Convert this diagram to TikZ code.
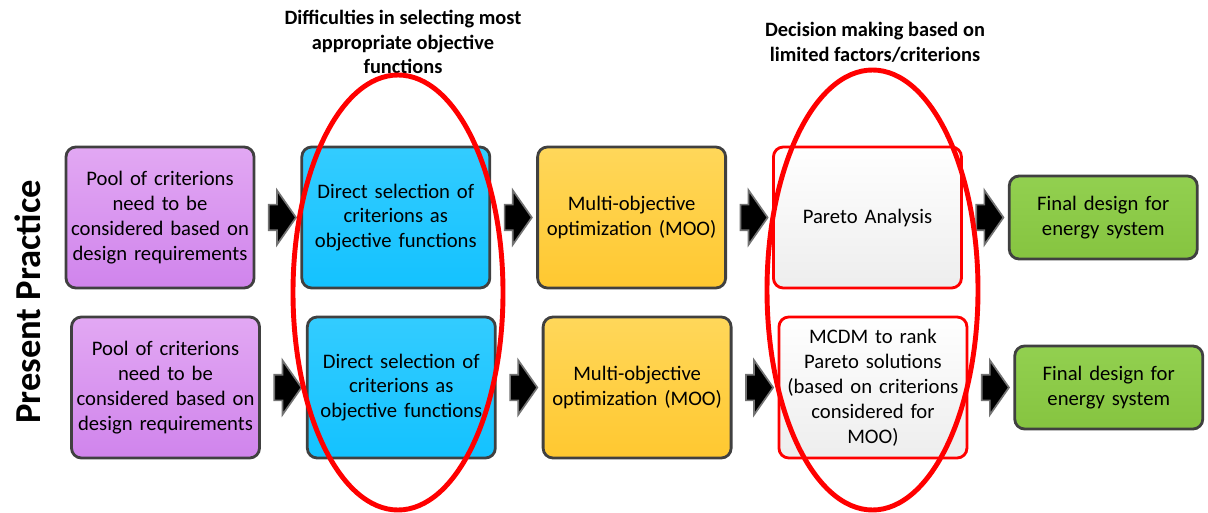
\documentclass[tikz,border=0pt]{standalone}
\usepackage{fontspec}
\setmainfont{Carlito}
\usetikzlibrary{shapes.arrows, positioning}

\definecolor{boxEdge}{HTML}{404040}
\definecolor{ringRed}{HTML}{FF0000}

\begin{document}
\begin{tikzpicture}[
        node distance=1.125cm,
        stepBox/.style={
            rectangle, rounded corners=7pt, draw=boxEdge, line width=2pt,
            text width=4.5cm, inner xsep=2pt, align=center, minimum width=4.7cm, minimum height=3.525cm,
            font=\fontsize{14.7}{17.7}\selectfont
        },
        poolBox/.style={stepBox, top color={rgb,255:red,226;green,168;blue,243}, bottom color={rgb,255:red,208;green,132;blue,236}},
        selectBox/.style={stepBox, top color={rgb,255:red,51;green,204;blue,255}, bottom color={rgb,255:red,20;green,194;blue,255}},
        mooBox/.style={stepBox, top color={rgb,255:red,255;green,215;blue,90}, bottom color={rgb,255:red,255;green,200;blue,48}},
        paretoBox/.style={stepBox, draw=ringRed, top color=white, bottom color=black!7},
        finalBox/.style={stepBox, minimum height=2.075cm, top color={rgb,255:red,146;green,208;blue,80}, bottom color={rgb,255:red,134;green,196;blue,64}},
        flowArrow/.style={
            single arrow, fill=black, draw=black!55, line width=1.2pt,
            inner xsep=0pt, inner ysep=0.3cm, minimum height=0.68cm,
            single arrow head extend=0.36cm, single arrow tip angle=110
        },
        ring/.style={draw=ringRed, line width=3.5pt},
        heading/.style={align=center, font=\fontsize{14.5}{17.7}\selectfont\bfseries}
    ]
        \useasboundingbox (0,0) rectangle (30.2,-12.825);

        % Nodes
        \node (pool1) [poolBox] at (4.0,-5.4375) {Pool of criterions\\ need to be\\ considered based on\\ design requirements};
        \node (direct1) [selectBox, right=of pool1] {Direct selection of\\ criterions as\\ objective functions};
        \node (moo1) [mooBox, right=of direct1] {Multi-objective\\ optimization (MOO)};
        \node (pareto1) [paretoBox, right=of moo1] {Pareto Analysis};
        \node (final1) [finalBox, right=of pareto1] {Final design for\\ energy system};

        \node (pool2) [poolBox] at (4.1375,-9.6875) {Pool of criterions\\ need to be\\ considered based on\\ design requirements};
        \node (direct2) [selectBox, right=of pool2] {Direct selection of\\ criterions as\\ objective functions};
        \node (moo2) [mooBox, right=of direct2] {Multi-objective\\ optimization (MOO)};
        \node (mcdm2) [paretoBox, right=of moo2] {MCDM to rank\\ Pareto solutions\\ (based on criterions\\ considered for\\ MOO)};
        \node (final2) [finalBox, right=of mcdm2] {Final design for\\ energy system};

        \node (practice) [rotate=90, font=\fontsize{26}{30}\selectfont\bfseries] at (0.7,-7.55) {Present Practice};

        \node (hardPick) [heading] at (10.075,-1.05) {Difficulties in selecting most\\ appropriate objective\\ functions};
        \node (fewCriteria) [heading] at (21.875,-1.06) {Decision making based on\\ limited factors/criterions};

        % Arrows
        \path (pool1) -- node[flowArrow] {} (direct1);
        \path (direct1) -- node[flowArrow] {} (moo1);
        \path (moo1) -- node[flowArrow] {} (pareto1);
        \path (pareto1) -- node[flowArrow] {} (final1);
        \path (pool2) -- node[flowArrow] {} (direct2);
        \path (direct2) -- node[flowArrow] {} (moo2);
        \path (moo2) -- node[flowArrow] {} (mcdm2);
        \path (mcdm2) -- node[flowArrow] {} (final2);

        % Rings
        \draw [ring] (9.95,-7.3125) ellipse [x radius=2.625cm, y radius=5.4375cm];
        \draw [ring] (21.8125,-7.25) ellipse [x radius=2.6375cm, y radius=5.5cm];
    \end{tikzpicture}
\end{document}
